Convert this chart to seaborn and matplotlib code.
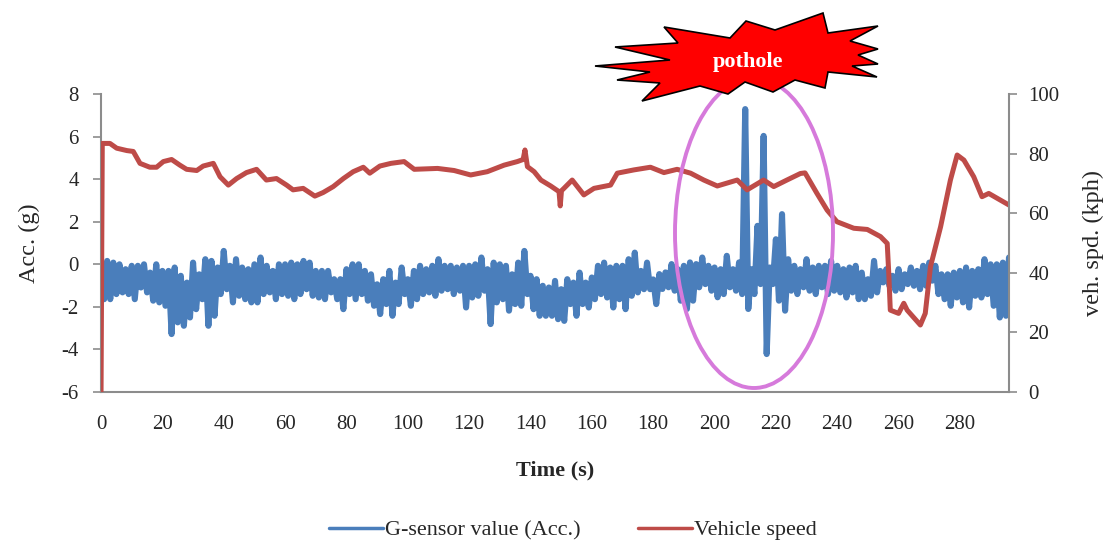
#Import libraries
import matplotlib
matplotlib.use('Agg')
import seaborn as sns
import matplotlib.pyplot as plt
from matplotlib.lines import Line2D
from matplotlib.patches import Ellipse, Polygon

#Vehicle speed (kph), time in seconds
speed_time = [0, 0.4, 2.9, 5.1, 8.4, 10.5, 12.7, 15.9, 18.1, 20.3, 23.0, 25.7, 27.9, 31.2,
              33.3, 36.6, 38.8, 41.5, 44.2, 47.4, 50.7, 53.9, 57.2, 60.5, 62.6, 65.9, 69.7,
              72.4, 75.7, 79.0, 82.2, 85.5, 87.6, 90.9, 94.5, 98.8, 102.1, 109.7, 115.1,
              120.5, 125.9, 131.4, 135.7, 137.6, 138.2, 139.0, 141.2, 143.4, 146.6, 149.3,
              149.7, 150.1, 150.9, 153.6, 157.4, 160.7, 166.1, 168.3, 173.7, 179.1, 183.5,
              187.8, 192.2, 196.5, 200.9, 207.4, 210.6, 216.0, 219.3, 223.6, 228.0, 229.5,
              233.4, 236.7, 239.9, 245.4, 249.8, 254.1, 256.3, 256.8, 257.3, 260.0, 261.7,
              262.8, 267.1, 268.7, 270.4, 273.7, 276.9, 279.1, 281.3, 284.5, 287.2, 289.4,
              292.1, 296.0]
speed_kph = [0, 83.4, 83.4, 81.8, 81.0, 80.7, 76.7, 75.4, 75.4, 77.3, 78.0, 76.1, 74.7, 74.3,
             75.8, 76.7, 72.2, 69.4, 71.6, 73.6, 74.7, 71.1, 71.6, 69.4, 67.8, 68.3, 65.7,
             66.9, 68.9, 71.6, 73.9, 75.4, 73.4, 75.8, 76.7, 77.3, 74.7, 75.0, 74.3,
             72.8, 73.9, 76.1, 77.3, 78.0, 81.2, 75.6, 73.9, 71.1, 69.1, 67.2,
             62.4, 67.5, 68.3, 71.1, 66.1, 68.3, 69.4, 73.4, 74.5, 75.4, 73.6,
             74.7, 73.4, 71.1, 69.1, 71.1, 67.8, 71.1, 68.9, 71.1, 73.3, 73.5,
             66.6, 61.0, 57.1, 54.9, 54.5, 52.1, 49.8, 39.8, 27.4, 26.3, 29.7,
             27.4, 22.4, 26.3, 42.0, 55.4, 71.1, 79.5, 77.8, 72.2, 65.5, 66.6,
             65.0, 62.7]

#G-sensor band: outer edge of the upper and lower swing every 2 s (g)
acc_high = [0.27, 0.27, 0.19, 0.11, -0.12, 0.04, 0.04, 0.11, -0.28, 0.11, -0.2, -0.2, -0.04,
            -0.43, -0.75, 0.19, -0.36, 0.35, 0.27, -0.04, 0.74, 0.04, 0.35, -0.04, -0.12,
            0.11, 0.43, 0.04, -0.2, 0.11, 0.11,
            0.19, 0.11, 0.27, 0.19, -0.2, -0.2, -0.2, -0.59, -0.59, -0.12, 0.11, 0.11, -0.2,
            -0.36, -0.83, -0.59, -0.2, -0.75, -0.04, -0.59, -0.2, 0.04, -0.12, 0.04, 0.35,
            0.04, 0.04, -0.04, 0.04, 0.04,
            0.11, 0.43, -0.12, 0.19, 0.11, 0.04, -0.36, 0.19, 0.74, -0.43, -0.59, -0.9,
            -0.98, -0.67, -1.06, -0.59, -0.75, -0.28, -0.75, -0.51, 0.04, 0.19, -0.04, 0.04,
            0.04, 0.35, 0.66, -0.2, 0.19, -0.6,
            -0.35, -0.27, 0.12, -0.12, 0.04, 0.2, 0.12, 0.43, 0.04, -0.04, -0.12, 0.51, -0.12,
            0.2, 7.41, -0.12, 1.92, 6.15, -0.04, 1.29, 2.47, 0.35, 0.04, -0.12, 0.35, -0.04,
            0.04, 0.04, 0.27, 0.04,
            -0.12, -0.04, 0.04, -0.28, -0.59, 0.27, -0.2, -0.12, -0.43, -0.12, -0.36, -0.04,
            -0.2, 0.04, 0.19, 0.04, -0.36, -0.36, -0.28, -0.2, -0.04, -0.2, -0.12, 0.35,
            0.11, 0.11, 0.19, 0.43]
acc_low = [-1.77, -1.77, -1.53, -1.45, -1.53, -1.77, -1.22, -1.45, -1.84, -1.92, -2.08, -3.41,
           -2.86, -3.02, -2.63, -2.24, -1.77, -3.02, -2.55, -1.53, -1.3, -1.92, -1.61, -1.77,
           -1.92, -1.92, -1.53, -1.45, -1.77, -1.53, -1.61,
           -1.77, -1.53, -1.3, -1.61, -1.69, -1.77, -1.45, -1.77, -2.24, -1.53, -1.77, -1.53,
           -1.84, -2.08, -2.47, -2.0, -2.55, -2.0, -1.53, -2.08, -1.77, -1.53, -1.45, -1.61,
           -1.37, -1.3, -1.53, -1.37, -2.16, -1.69,
           -1.61, -1.37, -2.94, -1.92, -1.77, -2.31, -2.0, -2.08, -1.53, -2.24, -2.55, -2.55,
           -2.55, -2.71, -2.79, -2.0, -2.55, -2.0, -2.16, -1.77, -1.53, -1.69, -2.16, -1.77,
           -2.24, -1.61, -1.45, -1.3, -1.3, -2.0,
           -1.29, -1.21, -1.37, -1.84, -2.23, -1.84, -1.21, -1.06, -1.37, -1.68, -1.53, -1.21,
           -1.37, -1.53, -2.23, -1.53, -1.06, -4.35, -1.06, -1.84, -2.31, -1.37, -1.53, -1.21,
           -1.37, -1.53, -1.21, -1.53, -1.37, -1.45,
           -1.69, -1.45, -1.77, -1.77, -1.61, -1.45, -0.98, -1.14, -1.37, -1.3, -1.06, -1.14,
           -1.3, -1.14, -0.9, -1.53, -1.77, -2.08, -1.69, -1.92, -2.16, -1.61, -1.69, -1.53,
           -2.08, -2.63, -2.55, -1.77]

x_ticks = list(range(0, 300, 20))
acc_ticks = list(range(-6, 10, 2))
speed_ticks = list(range(0, 120, 20))

#Edges were read, so pull them in by half the line thickness (g)
edge_inset = 0.12

#Build the zig-zag G-sensor trace (high, then low, one second apart)
acc_time = []
acc_value = []
for i, (hi, lo) in enumerate(zip(acc_high, acc_low)):
    acc_time += [2 * i, 2 * i + 1]
    acc_value += [hi - edge_inset, lo + edge_inset]

#Style
sns.set_style('white')
plt.rcParams['font.family'] = ['Liberation Serif', 'DejaVu Serif']
plt.rcParams['axes.unicode_minus'] = False

blue = '#4A7EBB'
red = '#BE4B48'
grey = '#8C8C8C'

fig = plt.figure(figsize=(11.19, 5.44), dpi=100)
ax = fig.add_axes([0.0903, 0.28, 0.8114, 0.5472])
ax2 = ax.twinx()

#Draw the two series
sns.lineplot(x=acc_time, y=acc_value, ax=ax, color=blue, linewidth=4.4, sort=False)
sns.lineplot(x=speed_time, y=speed_kph, ax=ax2, color=red, linewidth=3.6, sort=False)

ax.set_xlim(0, 296)
ax.set_ylim(-6, 8)
ax2.set_ylim(0, 100)
ax.set_xticks(x_ticks)
ax.set_yticks(acc_ticks)
ax2.set_yticks(speed_ticks)

#Axis lines and ticks
for a in (ax, ax2):
    for s in a.spines.values():
        s.set_visible(False)
ax.spines['left'].set_visible(True)
ax.spines['bottom'].set_visible(True)
ax2.spines['right'].set_visible(True)
for s in (ax.spines['left'], ax.spines['bottom'], ax2.spines['right']):
    s.set_color(grey)
    s.set_linewidth(1.5)

ax.tick_params(axis='y', direction='out', length=6, width=1.2, color=grey, pad=10,
               labelsize=15, left=True)
ax.tick_params(axis='x', length=0, pad=17, labelsize=15)
ax2.tick_params(axis='y', direction='out', length=6, width=1.2, color=grey, pad=8,
                labelsize=15, right=True)

ax.set_xlabel('Time (s)', fontsize=16, fontweight='bold', labelpad=19)
ax.set_ylabel('Acc. (g)', fontsize=17.5)
ax2.set_ylabel('veh. spd. (kph)', fontsize=17.5)
ax.yaxis.set_label_coords(-0.067, 0.5)
ax2.yaxis.set_label_coords(1.081, 0.5)

#Legend below the plot
handles = [Line2D([], [], color=blue, lw=2.5), Line2D([], [], color=red, lw=2.5)]
fig.legend(handles, ['G-sensor value (Acc.)', 'Vehicle speed'], loc='lower center',
           bbox_to_anchor=(0.512, -0.03), ncol=2, frameon=False, fontsize=16,
           handlelength=2.4, handletextpad=0.1, columnspacing=2.6)

#Pothole callout drawn in pixel space on top
over = fig.add_axes([0, 0, 1, 1])
over.set_xlim(0, 1119)
over.set_ylim(544, 0)
over.axis('off')

over.add_patch(Ellipse((754, 233), 158, 310, fill=False, edgecolor='#D67ADB', linewidth=2.8))

star = [(595, 66), (670, 60), (615, 47), (678, 43), (664, 27), (730, 38), (746, 21),
        (775, 30), (823, 13), (828, 33), (878, 26), (850, 41), (878, 49), (858, 55),
        (878, 64), (852, 66), (877, 77), (828, 72), (825, 88), (795, 80), (773, 92),
        (745, 82), (728, 94), (700, 86), (642, 101), (660, 83), (617, 80), (650, 72)]
over.add_patch(Polygon(star, closed=True, facecolor='#FF0000', edgecolor='black', linewidth=1.2))
over.text(748, 62, 'pothole', color='white', fontsize=16, fontweight='bold',
          ha='center', va='center')

plt.savefig('out.png', dpi=100)
